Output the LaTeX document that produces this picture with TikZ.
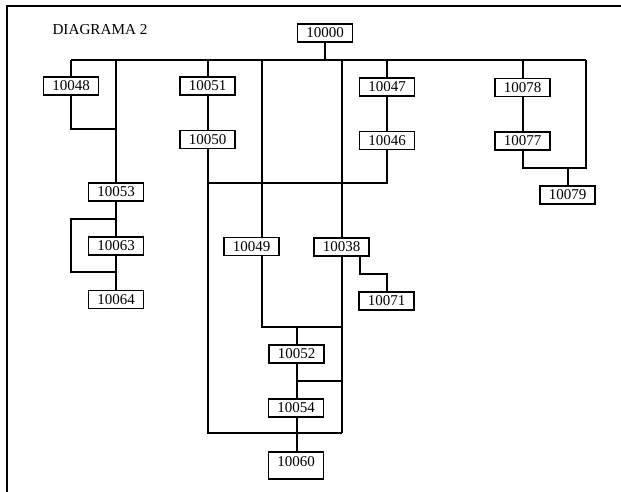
\documentclass[tikz,border=0pt]{standalone}
\usepackage{fontspec}
\setmainfont{Liberation Serif}
\begin{document}
\begin{tikzpicture}[x=1pt,y=-1pt,
  box/.style={draw, line width=1.2pt, minimum width=55pt, minimum height=18pt, inner sep=0pt, font=\fontsize{15}{17}\selectfont},
  wire/.style={line width=1.1pt},
  frame/.style={line width=1.4pt}]
\useasboundingbox (0,0) rectangle (621,492);
% frame
\draw[frame] (621,6) -- (7,6) -- (7,492);
\node[font=\fontsize{15.2}{17}\selectfont] (title) at (100,30) {DIAGRAMA 2};
% nodes
\node[box] (n10000) at (325,33) {10000};
\node[box] (n10048) at (71,86) {10048};
\node[box] (n10051) at (207.5,86) {10051};
\node[box] (n10050) at (207.5,139.5) {10050};
\node[box] (n10047) at (387,87) {10047};
\node[box] (n10046) at (387,140.5) {10046};
\node[box] (n10078) at (522.5,87.5) {10078};
\node[box] (n10077) at (522.5,141) {10077};
\node[box] (n10079) at (567.5,195) {10079};
\node[box] (n10053) at (116,192) {10053};
\node[box] (n10063) at (116,246) {10063};
\node[box] (n10064) at (116,299.5) {10064};
\node[box] (n10049) at (251.5,246.5) {10049};
\node[box] (n10038) at (341.5,247) {10038};
\node[box] (n10071) at (386.5,301) {10071};
\node[box] (n10052) at (296.5,354) {10052};
\node[box] (n10054) at (296,408) {10054};
\node[box, minimum height=27pt, text depth=8pt] (n10060) at (296,465.5) {10060};
% bus coordinates
\coordinate (b0) at (71,60);
\coordinate (b1) at (116,60);
\coordinate (b2) at (208,60);
\coordinate (b3) at (262,60);
\coordinate (b4) at (342,60);
\coordinate (b5) at (387,60);
\coordinate (b6) at (523,60);
\coordinate (b7) at (586,60);
\coordinate (j48) at (71,129);
\coordinate (j53) at (116,129);
\coordinate (h1) at (208,183);
\coordinate (h2) at (387,183);
\coordinate (h3) at (208,433);
\coordinate (h4) at (342,433);
\coordinate (h5) at (262,327);
\coordinate (h6) at (342,327);
\coordinate (h7) at (297,327);
\coordinate (h8) at (297,381);
\coordinate (h9) at (342,381);
\coordinate (r1) at (523,168);
\coordinate (r2) at (586,168);
\coordinate (r3) at (568,168);
\coordinate (l1) at (116,219);
\coordinate (l2) at (71,219);
\coordinate (l3) at (71,272);
\coordinate (l4) at (116,272);
\coordinate (k1) at (360,274);
\coordinate (k2) at (387,274);
% connectors
\draw[wire] (n10000.south) -- (n10000.south |- b0);
\draw[wire] (b0) -- (b7);
\draw[wire] (b0) -- (n10048.north -| b0);
\draw[wire] (n10048.south -| b0) -- (j48) -- (j53);
\draw[wire] (b1) -- (n10053.north);
\draw[wire] (b2) -- (n10051.north -| b2);
\draw[wire] (n10051.south -| b2) -- (n10050.north -| b2);
\draw[wire] (n10050.south -| b2) -- (h3) -- (h4);
\draw[wire] (b3) -- (n10049.north -| b3);
\draw[wire] (b4) -- (n10038.north -| b4);
\draw[wire] (b5) -- (n10047.north -| b5);
\draw[wire] (n10047.south -| b5) -- (n10046.north -| b5);
\draw[wire] (n10046.south -| b5) -- (h2) -- (h1);
\draw[wire] (b6) -- (n10078.north -| b6);
\draw[wire] (n10078.south -| b6) -- (n10077.north -| b6);
\draw[wire] (n10077.south -| b6) -- (r1) -- (r2) -- (b7);
\draw[wire] (r3) -- (n10079.north -| r3);
\draw[wire] (n10053) -- (n10063);
\draw[wire] (n10063) -- (n10064);
\draw[wire] (l1) -- (l2) -- (l3) -- (l4);
\draw[wire] (n10038.south -| k1) -- (k1) -- (k2) -- (n10071.north -| k2);
\draw[wire] (n10049.south -| h5) -- (h5) -- (h6);
\draw[wire] (n10038.south -| h4) -- (h4);
\draw[wire] (h7) -- (n10052.north -| h7);
\draw[wire] (n10052.south -| h7) -- (n10054.north -| h7);
\draw[wire] (n10054.south -| h7) -- (n10060.north -| h7);
\draw[wire] (h8) -- (h9);
\end{tikzpicture}
\end{document}
